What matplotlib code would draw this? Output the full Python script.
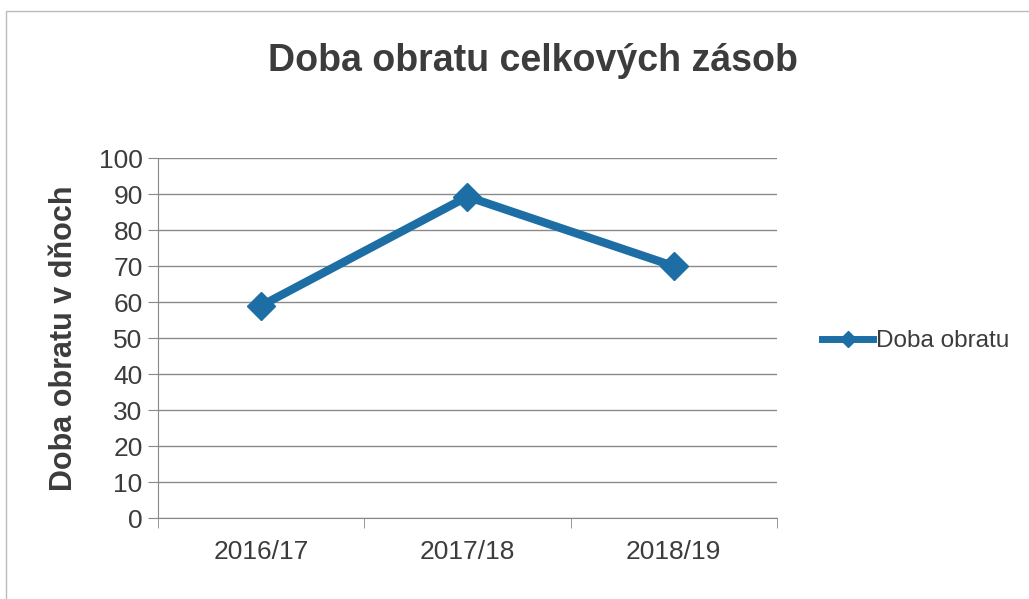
import matplotlib.pyplot as plt
from matplotlib.lines import Line2D

plt.rcParams['font.family'] = ['Liberation Sans', 'DejaVu Sans']

years = ['2016/17', '2017/18', '2018/19']
doba_obratu = [59, 89.3, 70]
line_color = '#1c6ea4'
text_color = '#3c3c3c'

fig = plt.figure(figsize=(10.29, 5.99), dpi=100)
ax = fig.add_axes([0.1535, 0.135, 0.6015, 0.601])

x = range(len(years))
ax.plot(x, doba_obratu, color=line_color, lw=6, marker='D', markersize=14,
        solid_capstyle='round', zorder=3)

ax.set_xlim(-0.5, len(years) - 0.5)
ax.set_ylim(0, 100)
ax.set_yticks(range(0, 101, 10))
ax.set_xticks(list(x))
ax.set_xticklabels(years)
ax.set_xticks([i - 0.5 for i in range(len(years) + 1)], minor=True)
ax.tick_params(axis='x', which='major', length=0, pad=16, labelsize=19, labelcolor=text_color)
ax.tick_params(axis='x', which='minor', length=7, color='#888888', direction='out')
ax.tick_params(axis='y', length=7, color='#888888', labelsize=19, labelcolor=text_color, pad=4)

ax.grid(axis='y', color='#8a8a8a', lw=1)
ax.set_axisbelow(True)
for s in ['top', 'right']:
    ax.spines[s].set_visible(False)
for s in ['left', 'bottom']:
    ax.spines[s].set_color('#888888')

ax.set_ylabel('Doba obratu v dňoch', fontsize=22, fontweight='bold', color=text_color, labelpad=14)
fig.text(0.518, 0.898, 'Doba obratu celkových zásob', ha='center', va='center',
         fontsize=27, fontweight='bold', color=text_color)

handle = Line2D([0], [0], color=line_color, lw=5, marker='D', markersize=8)
fig.legend([handle], ['Doba obratu'], loc='center left', bbox_to_anchor=(0.778, 0.43),
           frameon=False, fontsize=17.5, labelcolor=text_color, handlelength=2.1,
           handletextpad=0.1)

# outer chart frame
fig.add_artist(plt.Rectangle((0.006, -0.01), 1.1, 0.991, transform=fig.transFigure,
                             fill=False, edgecolor='#bbbbbb', lw=1))

fig.savefig('out.png', dpi=100)
